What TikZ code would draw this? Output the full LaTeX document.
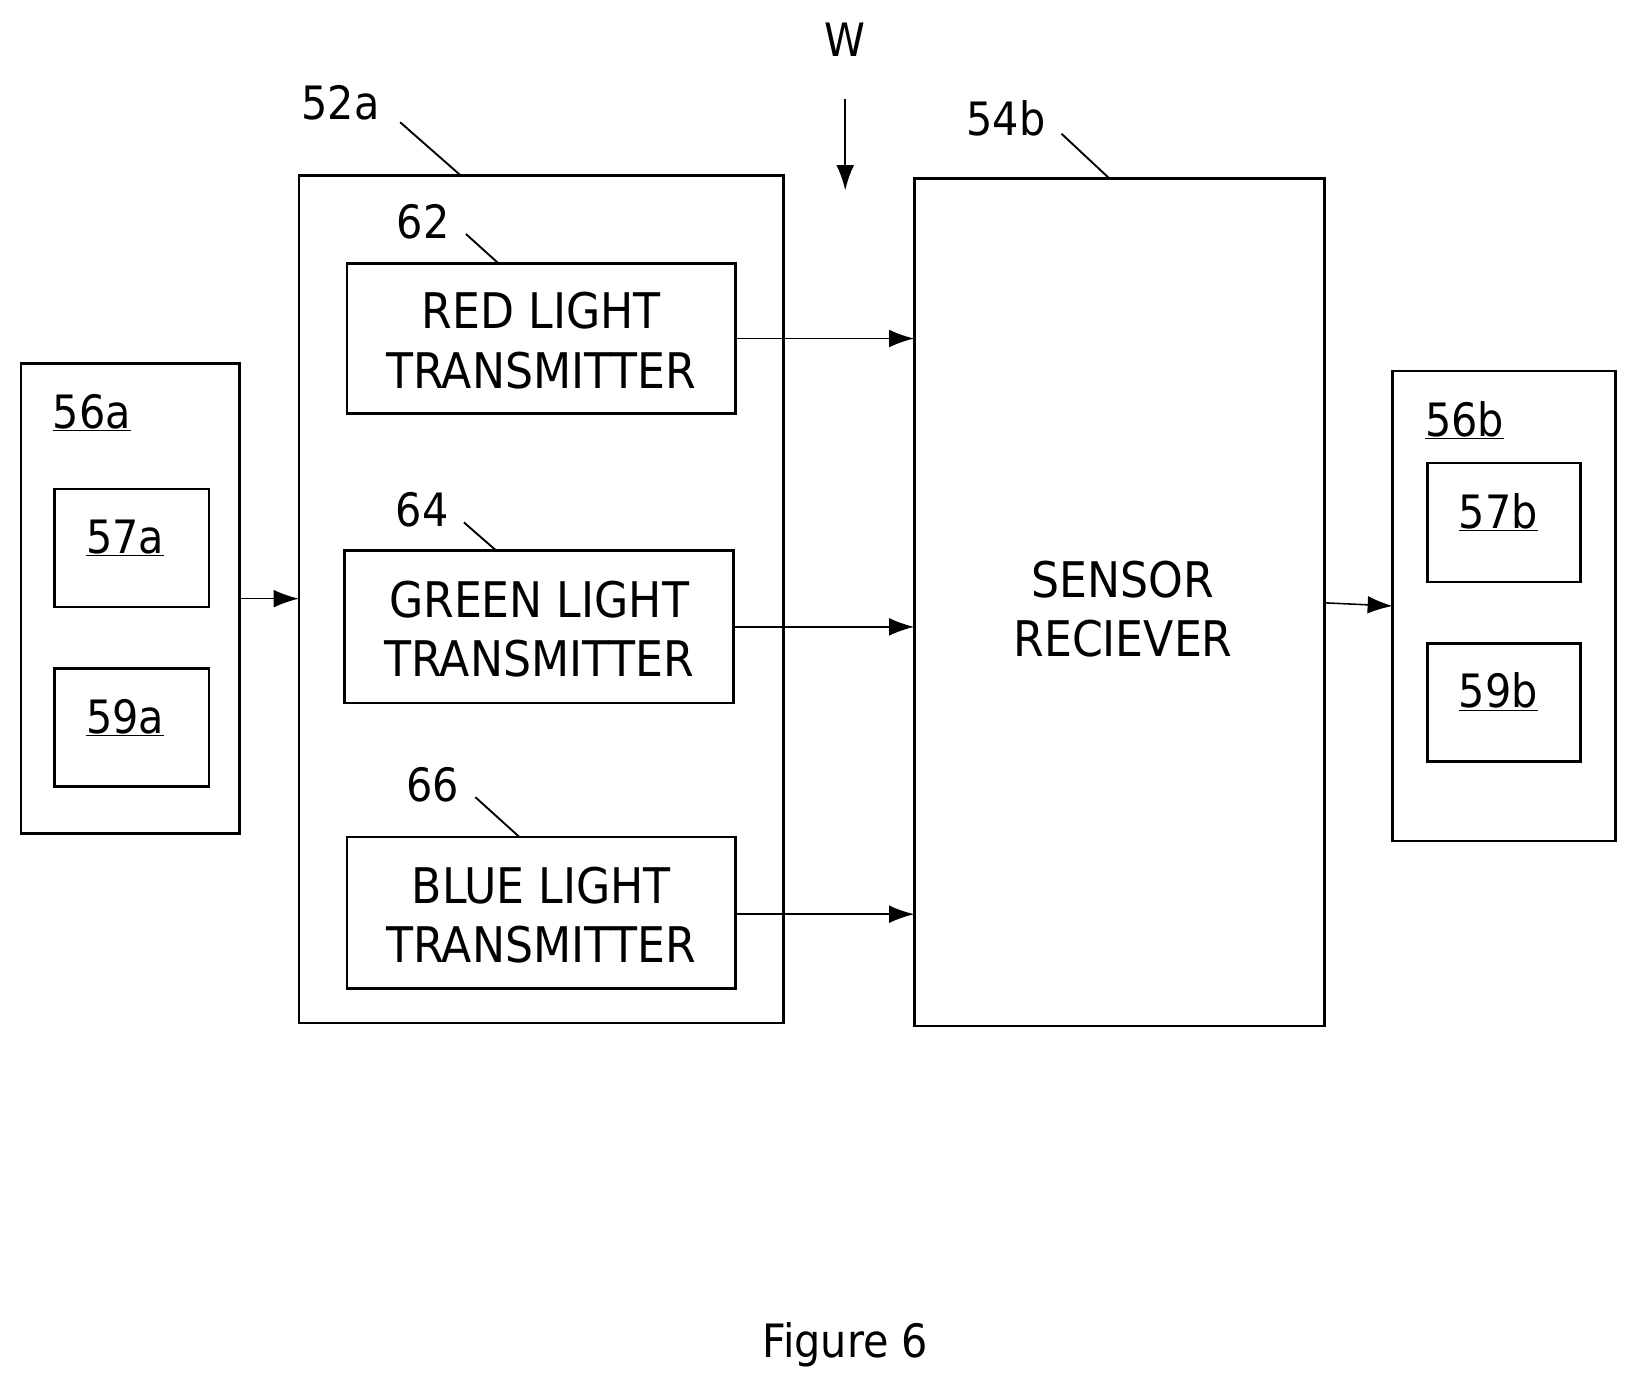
\documentclass[tikz,border=0pt]{standalone}
\usepackage{fontspec}
\setmainfont{DejaVu Sans Condensed}
\usetikzlibrary{arrows.meta}
\begin{document}
\begin{tikzpicture}[x=1pt,y=-1pt,
 bx/.style={draw,line width=2.5pt},
 lbl/.style={font=\fontsize{44}{52}\selectfont,inner sep=0},
 txt/.style={font=\fontsize{47}{57}\selectfont,align=center,inner sep=0},
 ar/.style={line width=1.5pt,-{Latex[length=24pt,width=17pt]}},
 ld/.style={line width=1.8pt}]
\useasboundingbox (0,0) rectangle (1563,1328);
\draw[bx] (20,348) rectangle (229,798); \node[lbl] at (88,395) {\underline{56a}};
\draw[bx] (52,468) rectangle (200,581); \node[lbl] at (120,515) {\underline{57a}};
\draw[bx] (52,640) rectangle (200,753); \node[lbl] at (120,687) {\underline{59a}};
\draw[bx] (286,168) rectangle (750,979);
\node[lbl] (l52) at (326,98) {52a}; \draw[ld] (383,117)--(441,168);
\draw[bx] (332,252) rectangle (704,396); \node[txt] at (518,326) {RED LIGHT\\TRANSMITTER};
\node[lbl] at (405,212) {62}; \draw[ld] (446,224)--(477,252);
\draw[bx] (330,527) rectangle (702,673); \node[txt] at (516,602) {GREEN LIGHT\\TRANSMITTER};
\node[lbl] at (404,488) {64}; \draw[ld] (444,500)--(475,527);
\draw[bx] (332,801) rectangle (704,946); \node[txt] at (518,876) {BLUE LIGHT\\TRANSMITTER};
\node[lbl] at (414,751) {66}; \draw[ld] (455,763)--(497,801);
\draw[bx] (875,171) rectangle (1268,982); \node[txt] at (1075,583) {SENSOR\\RECIEVER};
\node[lbl] at (963,113) {54b}; \draw[ld] (1016,128)--(1062,171);
\node[lbl] at (809,38) {W}; \coordinate (w1) at (809,95); \coordinate (w2) at (809,182);
\draw[ar] (w1)--(w2);
\draw[bx] (1333,355) rectangle (1546,805); \node[lbl] at (1402,402) {\underline{56b}};
\draw[bx] (1366,443) rectangle (1513,557); \node[lbl] at (1434,490) {\underline{57b}};
\draw[bx] (1366,616) rectangle (1513,729); \node[lbl] at (1434,662) {\underline{59b}};
\draw[ar] (229,573)--(286,573);
\draw[ar] (704,324)--(875,324);
\draw[ar] (702,600)--(875,600);
\draw[ar] (704,875)--(875,875);
\draw[ar] (1268,577)--(1333,580);
\node[lbl] at (809,1287) {Figure 6};
\end{tikzpicture}
\end{document}
